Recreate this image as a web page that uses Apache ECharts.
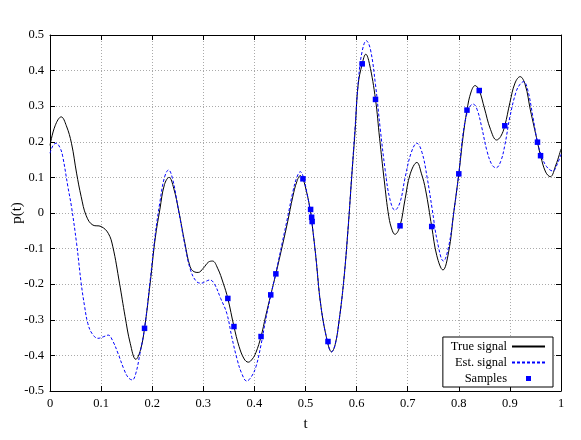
<!DOCTYPE html>
<html>
<head>
<meta charset="utf-8">
<script src="https://cdn.jsdelivr.net/npm/echarts@6/dist/echarts.min.js"></script>
<style>
    html, body { margin: 0; padding: 0; background: #fff; }
    #chart { width: 581px; height: 440px; }
</style>
</head>
<body>
<div id="chart"></div>
<script type="application/javascript">
    // values: [t, p(t)]
    var trueSignal = [
        [0.000, 0.190], [0.010, 0.245], [0.022, 0.270], [0.032, 0.245], [0.042, 0.196],
        [0.052, 0.112], [0.061, 0.046], [0.071, -0.008], [0.084, -0.034], [0.100, -0.038],
        [0.114, -0.057], [0.123, -0.095], [0.136, -0.197], [0.147, -0.291], [0.157, -0.366],
        [0.168, -0.411], [0.177, -0.385], [0.185, -0.324], [0.196, -0.197], [0.206, -0.070],
        [0.215, 0.010], [0.224, 0.080], [0.233, 0.100], [0.242, 0.070], [0.252, 0.005],
        [0.264, -0.085], [0.274, -0.150], [0.282, -0.165], [0.290, -0.167], [0.300, -0.155],
        [0.310, -0.138], [0.318, -0.135], [0.328, -0.155], [0.339, -0.197], [0.348, -0.240],
        [0.360, -0.319], [0.370, -0.375], [0.380, -0.410], [0.388, -0.419], [0.396, -0.410],
        [0.403, -0.392], [0.413, -0.347], [0.422, -0.290], [0.432, -0.230], [0.442, -0.171],
        [0.455, -0.090], [0.465, -0.025], [0.475, 0.045], [0.483, 0.088], [0.490, 0.105],
        [0.495, 0.096], [0.502, 0.060], [0.509, 0.011], [0.512, -0.020], [0.520, -0.120],
        [0.530, -0.260], [0.543, -0.362], [0.551, -0.390], [0.558, -0.370], [0.566, -0.300],
        [0.575, -0.188], [0.583, -0.050], [0.590, 0.093], [0.597, 0.230], [0.603, 0.360],
        [0.611, 0.419], [0.618, 0.446], [0.625, 0.420], [0.637, 0.319], [0.645, 0.210],
        [0.654, 0.093], [0.663, -0.010], [0.670, -0.050], [0.675, -0.060], [0.685, -0.036],
        [0.695, 0.040], [0.705, 0.110], [0.718, 0.142], [0.727, 0.110], [0.735, 0.065],
        [0.747, -0.038], [0.757, -0.120], [0.769, -0.160], [0.780, -0.110], [0.790, 0.000],
        [0.800, 0.110], [0.808, 0.210], [0.816, 0.289], [0.824, 0.340], [0.832, 0.358],
        [0.840, 0.344], [0.850, 0.295], [0.862, 0.235], [0.874, 0.205], [0.882, 0.215],
        [0.890, 0.245], [0.900, 0.310], [0.910, 0.365], [0.920, 0.383], [0.930, 0.360],
        [0.940, 0.290], [0.954, 0.199], [0.960, 0.161], [0.970, 0.115], [0.979, 0.102],
        [0.990, 0.135], [1.000, 0.180]
    ];

    var estSignal = [
        [0.000, 0.168], [0.006, 0.190], [0.012, 0.196], [0.020, 0.182], [0.025, 0.158],
        [0.035, 0.074], [0.042, 0.018], [0.052, -0.085], [0.061, -0.197], [0.068, -0.265],
        [0.074, -0.310], [0.082, -0.338], [0.094, -0.352], [0.104, -0.348], [0.114, -0.343],
        [0.123, -0.360], [0.133, -0.394], [0.145, -0.440], [0.153, -0.462], [0.161, -0.469],
        [0.168, -0.450], [0.176, -0.395], [0.185, -0.324], [0.196, -0.190], [0.206, -0.060],
        [0.215, 0.030], [0.224, 0.100], [0.232, 0.121], [0.240, 0.095], [0.250, 0.020],
        [0.264, -0.090], [0.275, -0.160], [0.287, -0.193], [0.297, -0.197], [0.305, -0.192],
        [0.313, -0.188], [0.322, -0.200], [0.334, -0.240], [0.346, -0.282], [0.356, -0.350],
        [0.366, -0.410], [0.375, -0.450], [0.385, -0.472], [0.394, -0.460], [0.403, -0.432],
        [0.413, -0.370], [0.422, -0.300], [0.432, -0.232], [0.442, -0.168], [0.455, -0.080],
        [0.465, -0.012], [0.475, 0.058], [0.483, 0.100], [0.490, 0.116], [0.496, 0.100],
        [0.503, 0.055], [0.509, 0.010], [0.512, -0.020], [0.520, -0.120], [0.530, -0.260],
        [0.543, -0.362], [0.551, -0.390], [0.558, -0.370], [0.566, -0.300], [0.575, -0.188],
        [0.583, -0.050], [0.590, 0.095], [0.597, 0.240], [0.604, 0.380], [0.611, 0.455],
        [0.619, 0.484], [0.627, 0.460], [0.637, 0.360], [0.646, 0.240], [0.656, 0.120],
        [0.665, 0.040], [0.675, 0.008], [0.685, 0.030], [0.695, 0.100], [0.707, 0.170],
        [0.718, 0.196], [0.728, 0.170], [0.738, 0.100], [0.748, 0.010], [0.758, -0.080],
        [0.770, -0.135], [0.780, -0.095], [0.790, 0.000], [0.800, 0.110], [0.808, 0.220],
        [0.816, 0.280], [0.822, 0.300], [0.828, 0.306], [0.836, 0.290], [0.845, 0.240],
        [0.855, 0.175], [0.865, 0.135], [0.873, 0.127], [0.882, 0.145], [0.890, 0.190],
        [0.900, 0.270], [0.912, 0.340], [0.920, 0.362], [0.927, 0.369], [0.935, 0.345],
        [0.945, 0.270], [0.954, 0.199], [0.962, 0.160], [0.972, 0.130], [0.984, 0.118],
        [0.992, 0.135], [1.000, 0.165]
    ];

    var samples = [
        [0.185, -0.324], [0.348, -0.240], [0.360, -0.319], [0.413, -0.347], [0.432, -0.230],
        [0.442, -0.171], [0.495, 0.096], [0.510, 0.010], [0.512, -0.012], [0.513, -0.024],
        [0.544, -0.361], [0.611, 0.419], [0.637, 0.319], [0.685, -0.036], [0.747, -0.038],
        [0.800, 0.110], [0.816, 0.289], [0.840, 0.344], [0.890, 0.245], [0.954, 0.199],
        [0.960, 0.161]
    ];

    var seriesNames = ['True signal', 'Est. signal', 'Samples'];

    var font = 'Liberation Serif';
    var chart = echarts.init(document.getElementById('chart'));

    var tickAxis = function (pos, showLabel) {
        return {
            type: 'value',
            position: pos,
            min: pos === 'left' || pos === 'right' ? -0.5 : 0,
            max: pos === 'left' || pos === 'right' ? 0.5 : 1,
            interval: 0.1,
            axisLine: { show: true, onZero: false, lineStyle: { color: '#000', width: 1 } },
            axisTick: { show: true, inside: true, length: 5, lineStyle: { color: '#000' } },
            axisLabel: { show: showLabel, color: '#000', fontFamily: font, fontSize: 12.5, margin: 6 },
            splitLine: {
                show: showLabel,
                lineStyle: { color: '#aaa', type: [1, 2], width: 1 }
            }
        };
    };

    var xMain = tickAxis('bottom', true);
    xMain.name = 't';
    xMain.nameLocation = 'middle';
    xMain.nameGap = 26;
    xMain.nameMoveOverlap = false;
    xMain.nameTextStyle = { color: '#000', fontFamily: font, fontSize: 15 };

    var yMain = tickAxis('left', true);
    yMain.name = 'p(t)';
    yMain.nameLocation = 'middle';
    yMain.nameGap = 25;
    yMain.nameMoveOverlap = false;
    yMain.nameTextStyle = { color: '#000', fontFamily: font, fontSize: 15 };

    // hide the marker ECharts puts in the middle of line legend icons
    var noMarker = { color: 'rgba(0,0,0,0)', borderWidth: 0, opacity: 0 };

    var option = {
        animation: false,
        backgroundColor: '#fff',
        grid: { left: 50, right: 20, top: 35, bottom: 49, containLabel: false, outerBoundsMode: 'none' },
        xAxis: [xMain, tickAxis('top', false)],
        yAxis: [yMain, tickAxis('right', false)],
        legend: {
            orient: 'vertical',
            right: 28,
            bottom: 53,
            align: 'right',
            backgroundColor: '#fff',
            borderColor: '#000',
            borderWidth: 1,
            borderRadius: 0,
            padding: [3, 7, 2, 8],
            itemWidth: 33,
            itemHeight: 11,
            itemGap: 3,
            textStyle: { color: '#000', fontFamily: font, fontSize: 12.5 },
            data: [
                { name: seriesNames[0], itemStyle: noMarker },
                { name: seriesNames[1], itemStyle: noMarker },
                { name: seriesNames[2], icon: 'path://M0,0L0,0M33,11L33,11M14,3h5v5h-5z' }
            ]
        },
        series: [
            {
                name: seriesNames[0],
                type: 'line',
                data: trueSignal,
                smooth: 0.4,
                symbol: 'none',
                lineStyle: { color: '#000', width: 1 },
                itemStyle: { color: '#000' },
                z: 2
            },
            {
                name: seriesNames[1],
                type: 'line',
                data: estSignal,
                smooth: 0.4,
                symbol: 'none',
                lineStyle: { color: '#0000ff', width: 1, type: [3, 2] },
                itemStyle: { color: '#0000ff' },
                z: 3
            },
            {
                name: seriesNames[2],
                type: 'scatter',
                data: samples,
                symbol: 'rect',
                symbolSize: 5.5,
                itemStyle: { color: '#0000ff', opacity: 1 },
                z: 4
            }
        ]
    };
    chart.setOption(option);
</script>
</body>
</html>
